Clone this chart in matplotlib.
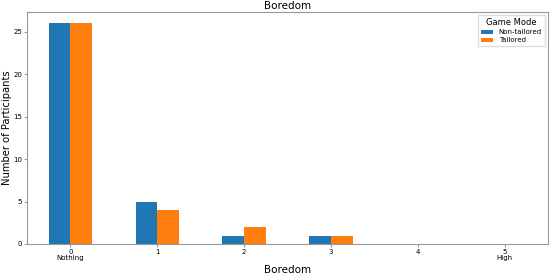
import numpy as np
import matplotlib.pyplot as plt

levels = [0, 1, 2, 3, 4, 5]
tick_labels = ["0\nNothing", "1", "2", "3", "4", "5\nHigh"]
non_tailored = [26, 5, 1, 1, 0, 0]
tailored = [26, 4, 2, 1, 0, 0]

fig = plt.figure(figsize=(5.5, 2.74), dpi=100)
ax = fig.add_axes([27 / 550, 30 / 274, 521 / 550, 232 / 274])

x = np.arange(len(levels))
w = 0.25
ax.bar(x - w / 2, non_tailored, w, color="#1f77b4", label="Non-tailored")
ax.bar(x + w / 2, tailored, w, color="#ff7f0e", label="Tailored")

ax.set_xlim(-0.5, 5.5)
ax.set_ylim(0, 27.3)
ax.set_xticks(x)
ax.set_xticklabels(tick_labels, fontsize=5, linespacing=1.0)
ax.set_yticks([0, 5, 10, 15, 20, 25])
ax.tick_params(axis="y", labelsize=5, length=2, color="#999999", pad=1.5)
ax.tick_params(axis="x", length=2, color="#999999", pad=1.5)
for s in ax.spines.values():
    s.set_color("#999999")

ax.set_title("Boredom", fontsize=7.5, pad=2)
ax.set_xlabel("Boredom", fontsize=7.5, labelpad=3)
ax.set_ylabel("Number of Participants", fontsize=7.2)
ax.yaxis.set_label_coords(-0.029, 0.5)

leg = ax.legend(title="Game Mode", fontsize=5, title_fontsize=6,
                loc="upper right", handlelength=1.8, handleheight=0.5,
                borderpad=0.4, labelspacing=0.3, framealpha=1,
                edgecolor="#dddddd", fancybox=False)

fig.savefig("out.png", dpi=100)
